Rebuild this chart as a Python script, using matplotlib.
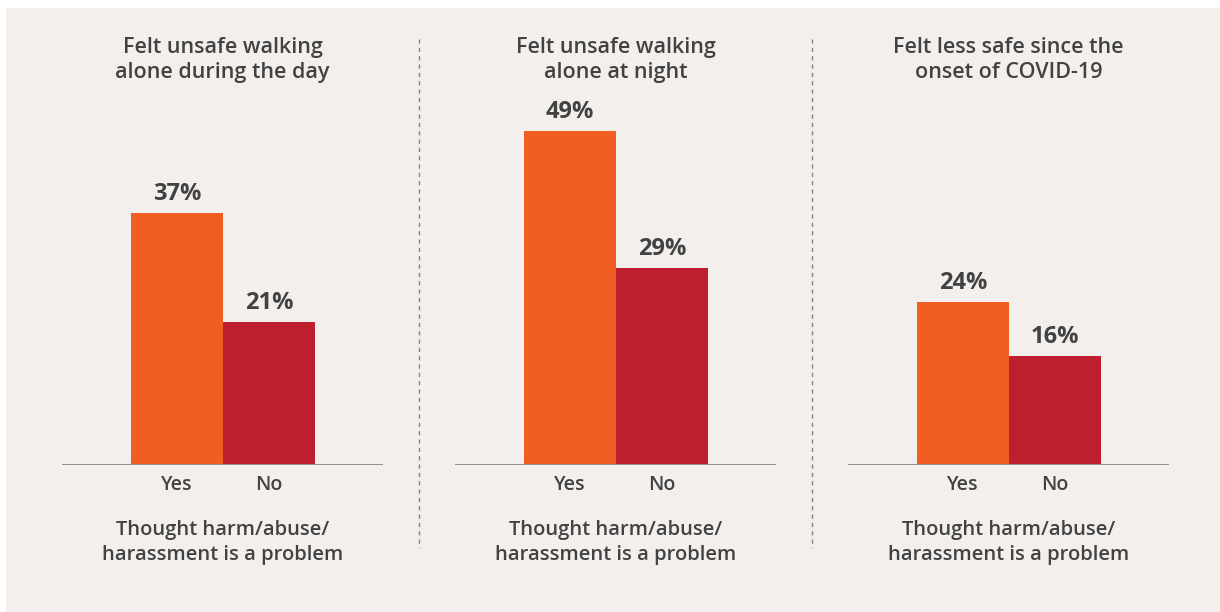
import matplotlib.pyplot as plt
from matplotlib.patches import Rectangle

titles = ["Felt unsafe walking\nalone during the day",
          "Felt unsafe walking\nalone at night",
          "Felt less safe since the\nonset of COVID-19"]
categories = ["Yes", "No"]
values = [[37, 21], [49, 29], [24, 16]]
footer = "Thought harm/abuse/\nharassment is a problem"

bg = "#f3efec"
bar_colors = ["#f15d22", "#be1e2d"]
text_color = "#424242"
line_color = "#9c9088"

plt.rcParams['font.family'] = ['Open Sans', 'DejaVu Sans']

W, H = 1220, 612
fig = plt.figure(figsize=(W / 100, H / 100), dpi=100)
fig.patch.set_facecolor("white")
fig.patches.append(Rectangle((6 / W, 0), 1 - 6 / W, 1 - 8 / H,
                             transform=fig.transFigure, facecolor=bg,
                             edgecolor="none", zorder=-10))

def fx(px):
    return px / W

def fy(py):
    return 1 - py / H

panel_left = [62, 455, 848]
panel_w = 321
base_y = 465
top_y = 100
px_per_pct = 6.81
bar_px = 92

for i, left in enumerate(panel_left):
    ax = fig.add_axes([fx(left), fy(base_y), panel_w / W, (base_y - top_y) / H])
    ax.set_facecolor("none")
    x0 = (177 - 62) / bar_px
    ax.set_xlim(-x0, panel_w / bar_px - x0)
    ax.set_ylim(0, (base_y - top_y) / px_per_pct)
    bars = ax.bar(range(len(categories)), values[i], width=1.0,
                  color=bar_colors, zorder=2)
    ax.bar_label(bars, labels=[f"{v}%" for v in values[i]], padding=5,
                 fontsize=17, fontweight="bold", color=text_color)
    ax.axhline(0, color=line_color, lw=1.5, zorder=3)
    ax.set_xticks(range(len(categories)), categories)
    ax.tick_params(axis="x", length=0, pad=7, labelsize=14, labelcolor=text_color)
    for lab in ax.get_xticklabels():
        lab.set_fontweight("semibold")
    ax.set_yticks([])
    for s in ax.spines.values():
        s.set_visible(False)

    cx = fx(left + panel_w / 2)
    fig.text(cx, fy(60), titles[i], ha="center", va="center", fontsize=15.5,
             fontweight="semibold", color=text_color, linespacing=1.3)
    fig.text(cx, fy(542.5), footer, ha="center", va="center", fontsize=14.5,
             fontweight="semibold", color=text_color, linespacing=1.28)

# dashed dividers between panels
for dx in [419, 812]:
    fig.add_artist(plt.Line2D([fx(dx), fx(dx)], [fy(39), fy(548)],
                              transform=fig.transFigure, color="#8f8378",
                              lw=1, linestyle=(0, (3, 3))))

fig.savefig("out.png", dpi=100, facecolor=fig.get_facecolor())
